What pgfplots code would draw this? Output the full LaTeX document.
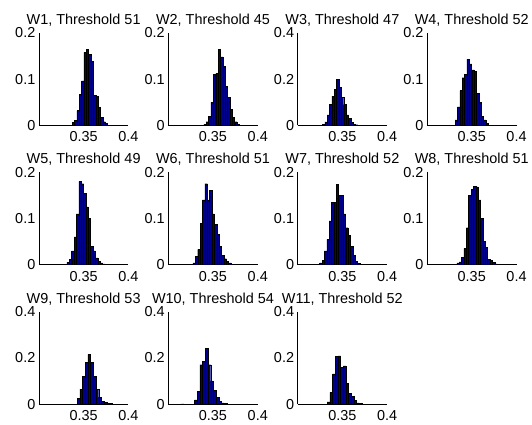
\documentclass[border=0pt]{standalone}
\usepackage{fontspec}
\setmainfont{Liberation Sans}
\usepackage{pgfplots}
\pgfplotsset{compat=1.18}
\usepgfplotslibrary{groupplots}
\usetikzlibrary{calc}
\definecolor{barblue}{rgb}{0,0,0.56}

\begin{document}
\begin{tikzpicture}
\begin{groupplot}[
  group style={group size=4 by 3, horizontal sep=40pt, vertical sep=47pt, group name=G},
  scale only axis, width=90pt, height=93pt,
  xmin=0.3, xmax=0.4, ymin=0,
  xtick={0.35,0.4},
  axis x line*=bottom, axis y line*=left,
  axis line style={black, line width=0.6pt, -},
  major tick length=0pt,
  tick label style={font=\fontsize{14.5}{17}\selectfont},
  /pgf/number format/assume math mode=true,
  title style={font=\fontsize{14.5}{17}\selectfont, yshift=-3pt},
  xticklabel style={yshift=-3pt},
  ybar, /pgf/bar width=0.00265,
  cycle list={{fill=barblue, draw=black, line width=0.3pt}},
]
\nextgroupplot[title={W1, Threshold 51}, ymax=0.2, ytick={0,0.1,0.2}]
\addplot coordinates {(0.3384,0.006) (0.3411,0.011) (0.3437,0.032) (0.3464,0.067) (0.3490,0.096) (0.3517,0.158) (0.3543,0.164) (0.3570,0.153) (0.3596,0.138) (0.3623,0.065) (0.3649,0.063) (0.3676,0.039) (0.3702,0.017) (0.3729,0.008) (0.3755,0.004)};
\nextgroupplot[title={W2, Threshold 45}, ymax=0.2, ytick={0,0.1,0.2}]
\addplot coordinates {(0.3411,0.003) (0.3438,0.008) (0.3464,0.020) (0.3491,0.050) (0.3517,0.110) (0.3544,0.112) (0.3570,0.165) (0.3597,0.148) (0.3623,0.128) (0.3650,0.085) (0.3676,0.060) (0.3703,0.035) (0.3729,0.018) (0.3756,0.008) (0.3782,0.003)};
\nextgroupplot[title={W3, Threshold 47}, ymax=0.4, ytick={0,0.2,0.4}]
\addplot coordinates {(0.3290,0.006) (0.3317,0.015) (0.3343,0.045) (0.3370,0.090) (0.3396,0.125) (0.3423,0.155) (0.3449,0.200) (0.3476,0.165) (0.3502,0.120) (0.3529,0.090) (0.3555,0.045) (0.3582,0.030) (0.3608,0.012) (0.3635,0.006) (0.3661,0.003)};
\nextgroupplot[title={W4, Threshold 52}, ymax=0.2, ytick={0,0.1,0.2}]
\addplot coordinates {(0.3327,0.012) (0.3354,0.040) (0.3380,0.075) (0.3407,0.103) (0.3433,0.110) (0.3460,0.143) (0.3486,0.133) (0.3513,0.120) (0.3539,0.117) (0.3566,0.070) (0.3592,0.050) (0.3619,0.020) (0.3645,0.012) (0.3672,0.004)};
\nextgroupplot[title={W5, Threshold 49}, ymax=0.2, ytick={0,0.1,0.2}]
\addplot coordinates {(0.3327,0.005) (0.3354,0.012) (0.3380,0.030) (0.3407,0.060) (0.3433,0.110) (0.3460,0.180) (0.3486,0.175) (0.3513,0.155) (0.3539,0.125) (0.3566,0.100) (0.3592,0.040) (0.3619,0.030) (0.3645,0.015) (0.3672,0.008) (0.3698,0.004) (0.3725,0.002)};
\nextgroupplot[title={W6, Threshold 51}, ymax=0.2, ytick={0,0.1,0.2}]
\addplot coordinates {(0.3290,0.004) (0.3317,0.018) (0.3343,0.033) (0.3370,0.090) (0.3396,0.140) (0.3423,0.175) (0.3449,0.140) (0.3476,0.160) (0.3502,0.110) (0.3529,0.087) (0.3555,0.065) (0.3582,0.039) (0.3608,0.020) (0.3635,0.013) (0.3661,0.008) (0.3688,0.004)};
\nextgroupplot[title={W7, Threshold 52}, ymax=0.2, ytick={0,0.1,0.2}]
\addplot coordinates {(0.3259,0.004) (0.3286,0.010) (0.3312,0.030) (0.3339,0.055) (0.3365,0.095) (0.3392,0.135) (0.3418,0.135) (0.3445,0.173) (0.3471,0.150) (0.3498,0.150) (0.3524,0.110) (0.3551,0.080) (0.3577,0.063) (0.3604,0.040) (0.3630,0.020) (0.3657,0.008) (0.3683,0.003)};
\nextgroupplot[title={W8, Threshold 51}, ymax=0.2, ytick={0,0.1,0.2}]
\addplot coordinates {(0.3346,0.004) (0.3373,0.006) (0.3399,0.016) (0.3426,0.035) (0.3452,0.080) (0.3479,0.150) (0.3505,0.163) (0.3532,0.170) (0.3558,0.168) (0.3585,0.140) (0.3611,0.100) (0.3638,0.050) (0.3664,0.037) (0.3691,0.012) (0.3717,0.010) (0.3744,0.005) (0.3770,0.002)};
\nextgroupplot[title={W9, Threshold 53}, ymax=0.4, ytick={0,0.2,0.4}, /pgf/bar width=0.003]
\addplot coordinates {(0.3444,0.025) (0.3474,0.065) (0.3504,0.120) (0.3534,0.180) (0.3564,0.215) (0.3594,0.180) (0.3624,0.120) (0.3654,0.065) (0.3684,0.030) (0.3714,0.012) (0.3744,0.006) (0.3774,0.003) (0.3804,0.002)};
\nextgroupplot[title={W10, Threshold 54}, ymax=0.4, ytick={0,0.2,0.4}, /pgf/bar width=0.003]
\addplot coordinates {(0.3160,0.001) (0.3310,0.018) (0.3340,0.055) (0.3370,0.170) (0.3400,0.185) (0.3430,0.240) (0.3460,0.170) (0.3490,0.100) (0.3520,0.060) (0.3550,0.030) (0.3580,0.012) (0.3610,0.005) (0.3640,0.002)};
\nextgroupplot[title={W11, Threshold 52}, ymax=0.4, ytick={0,0.2,0.4}, /pgf/bar width=0.003]
\addplot coordinates {(0.3345,0.010) (0.3375,0.050) (0.3405,0.130) (0.3435,0.205) (0.3465,0.208) (0.3495,0.160) (0.3525,0.165) (0.3555,0.090) (0.3585,0.045) (0.3615,0.033) (0.3645,0.015) (0.3675,0.005) (0.3705,0.002)};
\end{groupplot}
\path[use as bounding box] ($(G c1r1.north west)+(-39pt,33pt)$) rectangle ($(G c1r1.north west)+(493pt,-393pt)$);
\end{tikzpicture}
\end{document}
